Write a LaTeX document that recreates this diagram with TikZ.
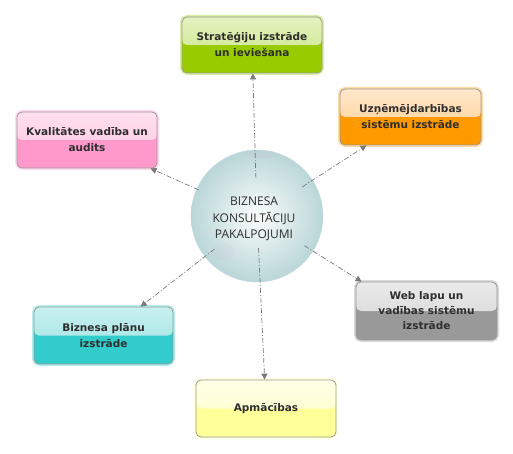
\documentclass[tikz,border=0pt]{standalone}
\usepackage{fontspec}
\setmainfont{DejaVu Sans}
\newfontfamily\centerfont{Open Sans}
\usetikzlibrary{arrows.meta}
\definecolor{boxborder}{HTML}{9A9A9A}
\definecolor{textdark}{HTML}{2E2E2E}
\definecolor{conncol}{HTML}{7A7A7A}
\definecolor{gBot}{HTML}{99CC00}\definecolor{gTop}{HTML}{E4F2C0}\definecolor{gMid}{HTML}{C8E47C}
\definecolor{oBot}{HTML}{FF9900}\definecolor{oTop}{HTML}{FFE8CC}\definecolor{oMid}{HTML}{FFCC88}
\definecolor{pBot}{HTML}{FF99CC}\definecolor{pTop}{HTML}{FFE0EE}\definecolor{pMid}{HTML}{FFC4DF}
\definecolor{aBot}{HTML}{999999}\definecolor{aTop}{HTML}{EAEAEA}\definecolor{aMid}{HTML}{D2D2D2}
\definecolor{tBot}{HTML}{33CCCC}\definecolor{tTop}{HTML}{C8F0F0}\definecolor{tMid}{HTML}{98E0E0}
\definecolor{yBot}{HTML}{FFFF99}\definecolor{yTop}{HTML}{FFFFE6}\definecolor{yMid}{HTML}{FFFFC4}
\definecolor{bubOut}{HTML}{BAD6D8}\definecolor{bubIn}{HTML}{FAFDFB}
\begin{document}
\begin{tikzpicture}[x=1pt,y=-1pt,
  box/.style={rounded corners=5pt, draw=boxborder, line width=0.8pt,
    minimum width=140pt, minimum height=56pt, align=center, inner sep=2pt,
    font=\bfseries\fontsize{10.5}{16}\selectfont, text=textdark},
  boxcol/.style n args={3}{fill=#3,
    preaction={draw=#3!35, line width=4pt},
    path picture={\shade[top color=#1, bottom color=#2]
      (path picture bounding box.north west) rectangle (path picture bounding box.east);}},
  conn/.style={draw=conncol, line width=0.7pt,
    dash pattern=on 5pt off 2pt on 1pt off 2pt,
    -{Triangle[length=6pt,width=6pt]}},
]
\useasboundingbox (0,0) rectangle (513,454);

% bubble
\node[circle, minimum size=132pt, inner sep=0pt, draw=bubOut!85!white, line width=0.4pt,
  inner color=bubIn, outer color=bubOut] (c) at (257,216) {};
\fill[violet!40, opacity=0.08] (224,252) ellipse (12pt and 8pt);
\fill[violet!40, opacity=0.08] (262,154) ellipse (16pt and 4pt);

% boxes
\node[box, boxcol={gTop}{gMid}{gBot}] (b1) at (252,45) {Stratēģiju izstrāde\\un ieviešana};
\node[box, boxcol={oTop}{oMid}{oBot}, minimum width=141pt] (b2) at (410.5,117) {Uzņēmējdarbības\\sistēmu izstrāde};
\node[box, boxcol={pTop}{pMid}{pBot}] (b3) at (87,140) {Kvalitātes vadība un\\audits};
\node[box, boxcol={aTop}{aMid}{aBot}, minimum width=141pt, minimum height=58pt,
  font=\bfseries\fontsize{10.5}{15}\selectfont] (b4) at (426.5,311) {Web lapu un\\vadības sistēmu\\izstrāde};
\node[box, boxcol={tTop}{tMid}{tBot}, minimum width=139pt, minimum height=57pt] (b5) at (103.5,335.5) {Biznesa plānu\\izstrāde};
\node[box, boxcol={yTop}{yMid}{yBot}, minimum height=57pt] (b6) at (266,408.5) {Apmācības};

% connectors
\draw[conn, shorten <=38pt] (c.center) -- (b1);
\draw[conn, shorten <=54pt] (c.center) -- (b2);
\draw[conn, shorten <=64pt] (c.center) -- (b3);
\draw[conn, shorten <=56pt] (c.center) -- ([xshift=6pt]b4.north west);
\draw[conn, shorten <=54pt] (c.center) -- (b5);
\draw[conn, shorten <=32pt] (c.center) -- (b6);

% center text
\node[align=center, text=textdark, font=\centerfont\fontsize{12}{16.5}\selectfont] (ct) at (254,219)
  {BIZNESA\\KONSULTĀCIJU\\PAKALPOJUMI};
\end{tikzpicture}
\end{document}
